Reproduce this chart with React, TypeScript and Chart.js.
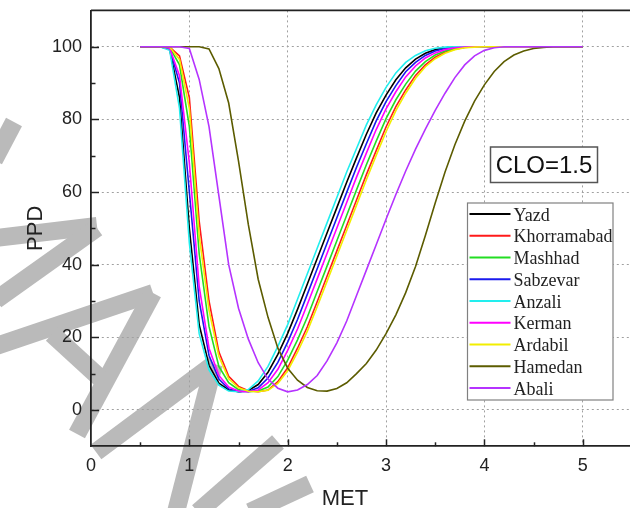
import React, { useEffect, useRef } from 'react';
import { Chart, registerables } from 'chart.js';

Chart.register(...registerables);

// MET values (x) shared by all series
const metValues = [
  0.5, 0.6, 0.7, 0.8, 0.9, 1.0, 1.1, 1.2, 1.3, 1.4, 1.5, 1.6, 1.7, 1.8, 1.9, 2.0,
  2.1, 2.2, 2.3, 2.4, 2.5, 2.6, 2.7, 2.8, 2.9, 3.0, 3.1, 3.2, 3.3, 3.4, 3.5, 3.6,
  3.7, 3.8, 3.9, 4.0, 4.1, 4.2, 4.3, 4.4, 4.5, 4.6, 4.7, 4.8, 4.9, 5.0,
];

// PPD values (y) per city
const yazd = [
  100, 100, 100, 99.3, 86, 50, 23.5, 12.3, 7.4, 5.5, 5.0, 5.35, 7.0, 10.4, 15.3, 21.1,
  27.7, 34.7, 41.7, 48.7, 55.7, 62.7, 69.4, 75.9, 81.8, 86.7, 90.9, 94.2, 96.6, 98.2, 99.2, 99.7,
  99.9, 100, 100, 100, 100, 100, 100, 100, 100, 100, 100, 100, 100, 100,
];
const khorramabad = [
  100, 100, 100, 99.9, 97.5, 86, 52, 30, 16, 9.3, 6.5, 5.3, 5.0, 5.5, 7.8, 11.6,
  17, 22.9, 29.8, 36.8, 43.8, 50.8, 57.8, 64.8, 71.4, 77.9, 83.5, 88.1, 92.1, 95, 97.1, 98.5,
  99.3, 99.8, 100, 100, 100, 100, 100, 100, 100, 100, 100, 100, 100, 100,
];
const mashhad = [
  100, 100, 100, 99.8, 95, 78, 43, 23, 12, 7.5, 5.6, 5.0, 5.2, 6.3, 9.2, 13.7,
  19.3, 25.6, 32.6, 39.6, 46.6, 53.6, 60.6, 67.5, 74, 80.2, 85.4, 89.7, 93.3, 95.9, 97.7, 98.8,
  99.5, 99.9, 100, 100, 100, 100, 100, 100, 100, 100, 100, 100, 100, 100,
];
const sabzevar = [
  100, 100, 100, 99.5, 90, 60, 30, 15, 8.5, 5.8, 5.05, 5.1, 6.1, 8.8, 13.1, 18.7,
  24.9, 31.9, 38.9, 45.9, 52.9, 59.9, 66.8, 73.3, 79.6, 84.9, 89.3, 93.1, 95.7, 97.6, 98.8, 99.5,
  99.8, 100, 100, 100, 100, 100, 100, 100, 100, 100, 100, 100, 100, 100,
];
const anzali = [
  100, 100, 100, 99, 83, 46, 21, 11, 6.8, 5.2, 5.0, 5.6, 8, 12, 17.5, 23.5,
  30.5, 37.5, 44.5, 51.5, 58.5, 65.5, 72, 78.5, 84, 88.8, 92.8, 95.7, 97.6, 98.9, 99.6, 99.9,
  100, 100, 100, 100, 100, 100, 100, 100, 100, 100, 100, 100, 100, 100,
];
const kerman = [
  100, 100, 100, 99.6, 92, 68, 34, 17, 9.5, 6.3, 5.2, 5.0, 5.5, 7.5, 11.2, 16.4,
  22.3, 29.1, 36.1, 43.1, 50.1, 57.1, 64.1, 70.7, 77.2, 82.9, 87.6, 91.7, 94.7, 96.9, 98.3, 99.2,
  99.7, 99.9, 100, 100, 100, 100, 100, 100, 100, 100, 100, 100, 100, 100,
];
const ardabil = [
  100, 100, 100, 99.9, 96.5, 83, 48, 27.5, 14.8, 8.6, 6.1, 5.15, 5.0, 5.4, 7.3, 10.8,
  15.9, 21.7, 28.4, 35.4, 42.4, 49.4, 56.4, 63.4, 70.1, 76.6, 82.4, 87.2, 91.3, 94.5, 96.7, 98.2,
  99.2, 99.7, 99.9, 100, 100, 100, 100, 100, 100, 100, 100, 100, 100, 100,
];
const hamedan = [
  100, 100, 100, 100, 100, 100, 100, 99.4, 94, 84.5, 68.5, 51, 36, 25.5, 17, 11.5,
  8.2, 6.2, 5.3, 5.2, 5.9, 7.5, 10, 12.8, 16.5, 21, 26.2, 32.3, 39.5, 48, 57, 65.5,
  73, 79.5, 85, 89.5, 93.2, 95.9, 97.7, 98.8, 99.5, 99.8, 100, 100, 100, 100,
];
const abali = [
  100, 100, 100, 100, 100, 99.5, 91, 78, 59, 40, 28, 19.5, 13, 8.5, 6, 5.0,
  5.5, 7, 9.5, 13.5, 18.5, 24.5, 31.5, 38.5, 45.5, 52.5, 59.3, 65.8, 71.8, 77.3, 82.5, 87.2,
  91.5, 95, 97.5, 99, 99.7, 100, 100, 100, 100, 100, 100, 100, 100, 100,
];

const seriesNames = ['Yazd', 'Khorramabad', 'Mashhad', 'Sabzevar', 'Anzali', 'Kerman', 'Ardabil', 'Hamedan', 'Abali'];
const seriesValues = [yazd, khorramabad, mashhad, sabzevar, anzali, kerman, ardabil, hamedan, abali];
const seriesColors = ['#000000', '#ff1a1a', '#22dd22', '#1a1aee', '#22eeee', '#ff00ff', '#f2ee00', '#5c5c00', '#b533ff'];

const xTickLabels = ['0', '1', '2', '3', '4', '5'];
const yTickLabels = ['0', '20', '40', '60', '80', '100'];
const xTitle = 'MET';
const yTitle = 'PPD';
const annotationText = 'CLO=1.5';

const W = 640;
const H = 508;
const SANS = '"Liberation Sans", Arial, sans-serif';
const SERIF = '"Liberation Serif", "Times New Roman", serif';
const INK = '#222222';
const GRID = '#a0a0a0';
const WATERMARK = '#bababa';

// grey watermark strokes of the source image (decoration, not data)
const watermarkStrokes: number[][][] = [
  [[14, 122], [-6, 160]],
  [[-4, 238], [97, 226]],
  [[97, 228], [-4, 300]],
  [[-4, 346], [153, 293]],
  [[153, 293], [77, 434]],
  [[52, 334], [100, 378]],
  [[96, 452], [214, 364]],
  [[214, 364], [176, 512]],
  [[198, 512], [278, 442]],
  [[250, 512], [310, 484]],
];

const watermarkPlugin = {
  id: 'watermark',
  beforeDraw(chart: any) {
    const { ctx } = chart;
    ctx.save();
    ctx.strokeStyle = WATERMARK;
    ctx.lineWidth = 18;
    ctx.lineCap = 'butt';
    ctx.lineJoin = 'miter';
    watermarkStrokes.forEach((s) => {
      ctx.beginPath();
      ctx.moveTo(s[0][0], s[0][1]);
      for (let i = 1; i < s.length; i++) ctx.lineTo(s[i][0], s[i][1]);
      ctx.stroke();
    });
    ctx.restore();
  },
};

const decorPlugin = {
  id: 'decor',
  afterDraw(chart: any) {
    const { ctx, chartArea: a, scales } = chart;
    const xs = scales.x;
    const ys = scales.y;
    ctx.save();
    // frame top and right
    ctx.strokeStyle = INK;
    ctx.lineWidth = 1.8;
    ctx.beginPath();
    ctx.moveTo(a.left, a.top);
    ctx.lineTo(a.right, a.top);
    ctx.lineTo(a.right, a.bottom);
    ctx.stroke();

    // inward ticks
    ctx.lineWidth = 1.5;
    xs.ticks.forEach((t: any) => {
      if (t.value <= 0 || t.value >= 5.5) return;
      const major = xTickLabels.includes(String(t.value));
      const px = Math.round(xs.getPixelForValue(t.value)) + 0.5;
      ctx.beginPath();
      ctx.moveTo(px, a.bottom);
      ctx.lineTo(px, a.bottom - (major ? 7 : 4));
      ctx.stroke();
    });
    ys.ticks.forEach((t: any) => {
      if (t.value < 0 || t.value > 100) return;
      const major = yTickLabels.includes(String(t.value));
      const py = Math.round(ys.getPixelForValue(t.value)) + 0.5;
      ctx.beginPath();
      ctx.moveTo(a.left, py);
      ctx.lineTo(a.left + (major ? 8 : 4.5), py);
      ctx.stroke();
    });

    // axis titles
    ctx.fillStyle = INK;
    ctx.font = `22px ${SANS}`;
    ctx.textAlign = 'center';
    ctx.textBaseline = 'alphabetic';
    ctx.fillText(xTitle, 345, 504.5);
    ctx.save();
    ctx.translate(42, (a.top + a.bottom) / 2);
    ctx.rotate(-Math.PI / 2);
    ctx.fillText(yTitle, 0, 0);
    ctx.restore();

    // CLO annotation box
    ctx.fillStyle = '#ffffff';
    ctx.fillRect(490.5, 147, 107, 35.5);
    ctx.strokeStyle = '#555555';
    ctx.lineWidth = 1.5;
    ctx.strokeRect(490.5, 147, 107, 35.5);
    ctx.fillStyle = '#111111';
    ctx.font = `24px ${SANS}`;
    ctx.fillText(annotationText, 544, 173);

    // legend
    const lx = 467.5, ly = 203, lw = 145.5, lh = 197;
    ctx.fillStyle = '#ffffff';
    ctx.fillRect(lx, ly, lw, lh);
    ctx.strokeStyle = '#808080';
    ctx.lineWidth = 1.2;
    ctx.strokeRect(lx, ly, lw, lh);
    ctx.textAlign = 'left';
    ctx.font = `18px ${SERIF}`;
    chart.data.datasets.forEach((ds: any, i: number) => {
      const y = 214 + 21.75 * i;
      ctx.strokeStyle = ds.borderColor;
      ctx.lineWidth = 2;
      ctx.beginPath();
      ctx.moveTo(469.5, y);
      ctx.lineTo(510.5, y);
      ctx.stroke();
      ctx.fillStyle = INK;
      ctx.fillText(ds.label, 513.5, y + 6.5);
    });
    ctx.restore();
  },
};

export default function App() {
  const ref = useRef<HTMLCanvasElement>(null);
  useEffect(() => {
    document.body.style.margin = '0';
    const datasets = seriesNames.map((name, i) => ({
      label: name,
      data: metValues.map((x, j) => ({ x, y: seriesValues[i][j] })),
      borderColor: seriesColors[i],
      backgroundColor: seriesColors[i],
      borderWidth: 1.6,
      pointRadius: 0,
      tension: 0,
      fill: false,
      order: seriesNames.length - i,
    }));
    const chart = new Chart(ref.current as HTMLCanvasElement, {
      type: 'line',
      data: { datasets },
      options: {
        animation: false,
        responsive: false,
        maintainAspectRatio: false,
        devicePixelRatio: 1,
        layout: { autoPadding: false, padding: { left: 0, top: 10.4, right: W - 631.9, bottom: 0 } },
        plugins: { legend: { display: false }, tooltip: { enabled: false } },
        scales: {
          x: {
            type: 'linear',
            min: 0,
            max: 5.5,
            ticks: {
              stepSize: 0.5,
              autoSkip: false,
              maxRotation: 0,
              padding: 9,
              color: INK,
              font: { family: SANS, size: 18 },
              callback: (v: any) => (xTickLabels.includes(String(v)) ? String(v) : ''),
            },
            grid: {
              drawTicks: false,
              lineWidth: 1,
              color: (c: any) =>
                c.tick && c.tick.value > 0 && xTickLabels.includes(String(c.tick.value)) ? GRID : 'rgba(0,0,0,0)',
            },
            border: { display: true, color: INK, width: 1.8, dash: [2, 3] },
            afterFit: (s: any) => {
              s.height = H - 446.3;
              s.paddingLeft = 0;
              s.paddingRight = 0;
            },
          },
          y: {
            type: 'linear',
            min: -10,
            max: 110,
            ticks: {
              stepSize: 10,
              autoSkip: false,
              padding: 9,
              color: INK,
              font: { family: SANS, size: 18 },
              callback: (v: any) => (yTickLabels.includes(String(v)) ? String(v) : ''),
            },
            grid: {
              drawTicks: false,
              lineWidth: 1,
              color: (c: any) => (c.tick && yTickLabels.includes(String(c.tick.value)) ? GRID : 'rgba(0,0,0,0)'),
            },
            border: { display: true, color: INK, width: 1.8, dash: [2, 3] },
            afterFit: (s: any) => {
              s.width = 91;
              s.paddingTop = 0;
              s.paddingBottom = 0;
            },
          },
        },
      },
      plugins: [watermarkPlugin, decorPlugin],
    } as any);
    return () => chart.destroy();
  }, []);
  return (
    <div style={{ position: 'fixed', left: 0, top: 0, width: 630, height: 508, overflow: 'hidden', background: '#fff' }}>
      <canvas ref={ref} width={W} height={H} style={{ width: W, height: H, display: 'block' }} />
    </div>
  );
}
